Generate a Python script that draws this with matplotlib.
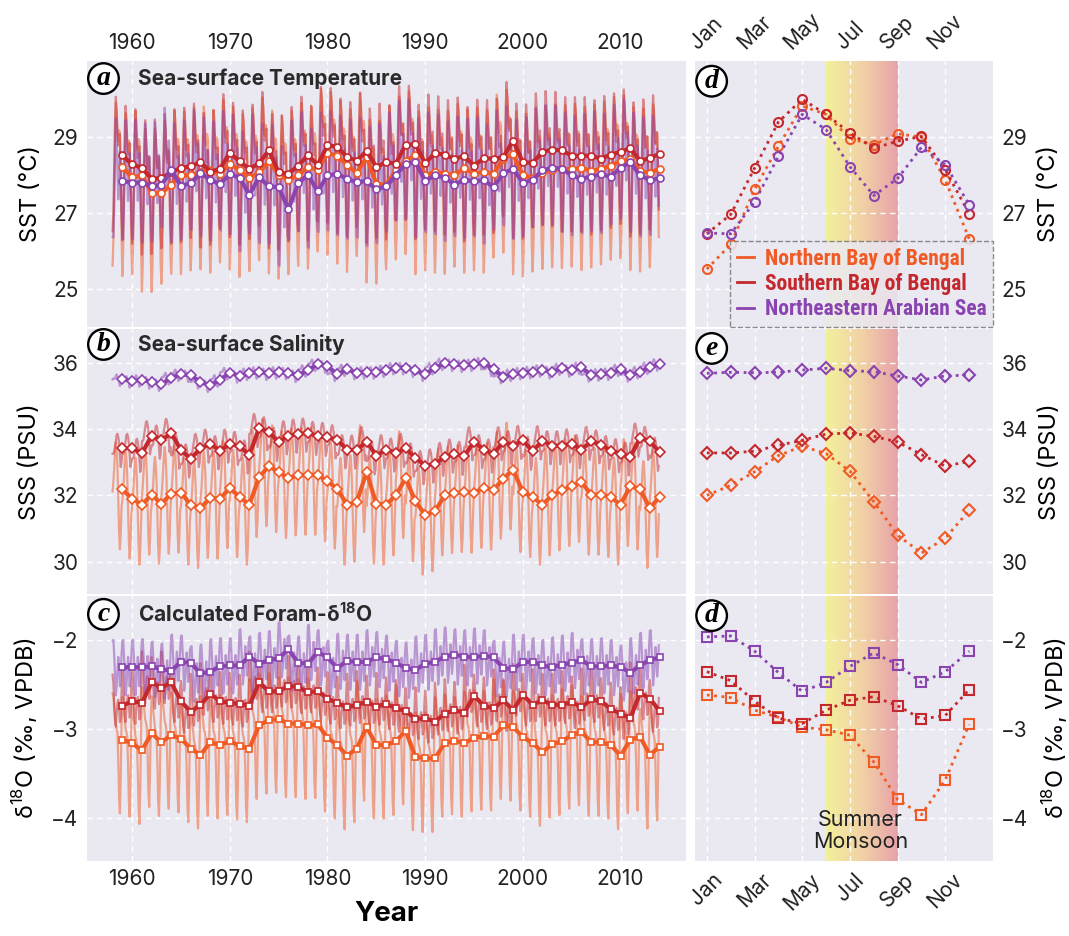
import numpy as np
import matplotlib.pyplot as plt
from matplotlib import font_manager
from matplotlib.colors import LinearSegmentedColormap
from matplotlib.lines import Line2D

plt.rcParams['font.family'] = ['Inter', 'DejaVu Sans']
plt.rcParams['mathtext.fontset'] = 'custom'
plt.rcParams['mathtext.rm'] = 'Inter'
plt.rcParams['mathtext.bf'] = 'Inter:bold'

# annual means, 1959-2014
years = np.arange(1959, 2015)

sst_n = [28.22, 27.94, 27.99, 27.53, 27.52, 27.74, 28.00, 27.99, 28.09, 28.12, 28.03, 28.30, 28.12, 27.92,
         28.07, 28.36, 28.01, 27.87, 27.99, 28.21, 28.14, 28.59, 28.50, 28.27, 28.05, 28.47, 27.77, 27.74,
         28.12, 28.38, 28.52, 27.99, 28.09, 28.03, 28.00, 28.19, 28.03, 28.09, 28.03, 28.43, 28.56,
         27.99, 27.93, 28.06, 28.13, 28.17, 28.15, 28.19, 28.10, 28.17, 28.25, 28.37, 28.41, 28.10, 28.06, 28.17]
sst_s = [28.52, 28.28, 28.19, 27.90, 27.92, 28.07, 28.19, 28.23, 28.34, 28.09, 28.16, 28.59, 28.36, 28.16,
         28.31, 28.65, 28.07, 28.03, 28.25, 28.52, 28.27, 28.78, 28.75, 28.47, 28.38, 28.63, 28.21, 28.34,
         28.30, 28.80, 28.81, 28.31, 28.58, 28.53, 28.43, 28.50, 28.25, 28.44, 28.43, 28.47, 28.91,
         28.34, 28.32, 28.61, 28.67, 28.65, 28.51, 28.51, 28.51, 28.43, 28.54, 28.61, 28.71, 28.37, 28.45, 28.56]
sst_a = [27.84, 27.80, 27.80, 27.71, 27.74, 28.12, 27.72, 27.78, 28.05, 27.87, 27.76, 28.03, 27.93, 27.48,
         27.94, 27.70, 27.68, 27.10, 27.78, 28.01, 27.57, 27.99, 28.03, 27.90, 27.81, 27.84, 27.62, 27.70,
         27.99, 28.30, 28.34, 27.85, 27.99, 27.93, 27.75, 27.88, 27.83, 27.87, 27.68, 28.05, 28.16,
         27.80, 27.87, 28.12, 28.19, 28.17, 27.99, 27.90, 27.96, 28.02, 27.96, 28.19, 28.34, 27.99, 27.87, 27.91]

sss_n = [32.18, 31.90, 31.72, 32.02, 31.75, 32.05, 32.08, 31.72, 31.62, 31.92, 31.90, 32.22, 31.95, 31.72,
         32.55, 32.88, 32.70, 32.52, 32.60, 32.62, 32.62, 32.42, 32.20, 31.72, 31.80, 32.70, 31.75, 31.72,
         32.00, 32.52, 31.82, 31.42, 31.52, 32.00, 32.07, 32.10, 32.08, 32.23, 32.17, 32.50, 32.78,
         32.10, 31.95, 31.72, 32.00, 32.15, 32.28, 32.40, 32.02, 32.02, 31.95, 31.72, 32.28, 32.18, 31.62, 31.95]
sss_s = [33.42, 33.42, 33.27, 33.80, 33.67, 33.87, 33.37, 33.10, 33.42, 33.55, 33.35, 33.55, 33.48, 33.22,
         34.02, 33.92, 33.60, 33.80, 33.85, 33.88, 33.78, 33.75, 33.68, 33.38, 33.37, 33.62, 33.20, 33.38,
         33.28, 33.42, 33.13, 32.90, 32.95, 33.15, 33.25, 33.18, 33.62, 33.38, 33.25, 33.62, 33.50,
         33.66, 33.33, 33.65, 33.50, 33.50, 33.56, 33.38, 33.63, 33.53, 33.35, 33.26, 33.16, 33.73, 33.63, 33.30]
sss_a = [35.50, 35.45, 35.48, 35.42, 35.35, 35.55, 35.65, 35.62, 35.42, 35.32, 35.48, 35.70, 35.60, 35.68,
         35.72, 35.68, 35.72, 35.70, 35.62, 35.78, 35.95, 35.90, 35.65, 35.80, 35.70, 35.72, 35.72, 35.77,
         35.85, 35.85, 35.77, 35.65, 35.85, 35.98, 35.95, 35.92, 35.95, 36.00, 35.80, 35.58, 35.65,
         35.70, 35.73, 35.78, 35.73, 35.83, 35.78, 35.86, 35.63, 35.66, 35.68, 35.80, 35.63, 35.73, 35.86, 35.96]

d18o_n = [-3.12, -3.16, -3.24, -3.05, -3.15, -3.07, -3.11, -3.22, -3.29, -3.15, -3.18, -3.14, -3.19, -3.22,
          -2.96, -2.90, -2.89, -2.94, -2.94, -2.96, -2.95, -3.10, -3.18, -3.30, -3.22, -2.98, -3.18, -3.18,
          -3.14, -3.02, -3.31, -3.33, -3.33, -3.16, -3.13, -3.16, -3.10, -3.08, -3.09, -2.96, -2.98,
          -3.09, -3.16, -3.26, -3.17, -3.14, -3.07, -3.03, -3.15, -3.15, -3.18, -3.30, -3.12, -3.09, -3.29, -3.20]
d18o_s = [-2.74, -2.69, -2.71, -2.48, -2.54, -2.48, -2.69, -2.81, -2.73, -2.61, -2.69, -2.71, -2.72, -2.74,
          -2.48, -2.58, -2.58, -2.52, -2.53, -2.59, -2.58, -2.66, -2.71, -2.76, -2.73, -2.70, -2.75, -2.72,
          -2.77, -2.80, -2.89, -2.88, -2.92, -2.83, -2.79, -2.82, -2.63, -2.74, -2.77, -2.68, -2.79,
          -2.62, -2.73, -2.68, -2.73, -2.73, -2.70, -2.76, -2.67, -2.69, -2.78, -2.83, -2.88, -2.60, -2.66, -2.80]
d18o_a = [-2.31, -2.31, -2.31, -2.30, -2.33, -2.35, -2.25, -2.26, -2.38, -2.36, -2.30, -2.29, -2.29, -2.19,
          -2.27, -2.23, -2.21, -2.11, -2.26, -2.27, -2.14, -2.20, -2.32, -2.24, -2.25, -2.25, -2.20, -2.22,
          -2.26, -2.32, -2.34, -2.27, -2.25, -2.19, -2.17, -2.19, -2.20, -2.18, -2.20, -2.32, -2.33,
          -2.25, -2.25, -2.29, -2.31, -2.28, -2.26, -2.23, -2.30, -2.30, -2.29, -2.31, -2.37, -2.29, -2.23, -2.20]

# monthly climatology, Jan-Dec
months = np.arange(1, 13)
month_ticks = [1, 3, 5, 7, 9, 11]
month_labels = ['Jan', 'Mar', 'May', 'Jul', 'Sep', 'Nov']

clim_sst_n = [25.52, 26.17, 27.62, 28.76, 29.82, 29.60, 28.96, 28.80, 29.09, 29.00, 27.87, 26.32]
clim_sst_s = [26.45, 26.96, 28.18, 29.40, 30.00, 29.60, 29.11, 28.71, 28.89, 29.02, 28.14, 26.98]
clim_sst_a = [26.47, 26.45, 27.29, 28.49, 29.60, 29.20, 28.22, 27.46, 27.91, 28.73, 28.27, 27.22]

clim_sss_n = [32.00, 32.30, 32.71, 33.20, 33.48, 33.26, 32.73, 31.81, 30.80, 30.26, 30.71, 31.55]
clim_sss_s = [33.28, 33.28, 33.33, 33.51, 33.66, 33.85, 33.88, 33.78, 33.61, 33.23, 32.88, 33.03]
clim_sss_a = [35.68, 35.71, 35.70, 35.71, 35.78, 35.83, 35.76, 35.73, 35.60, 35.48, 35.60, 35.63]

clim_d18o_n = [-2.62, -2.65, -2.79, -2.87, -2.98, -3.01, -3.07, -3.37, -3.79, -3.96, -3.57, -2.95]
clim_d18o_s = [-2.36, -2.46, -2.69, -2.88, -2.94, -2.79, -2.68, -2.64, -2.74, -2.89, -2.85, -2.56]
clim_d18o_a = [-1.97, -1.96, -2.13, -2.37, -2.58, -2.48, -2.30, -2.15, -2.28, -2.48, -2.36, -2.13]

region_names = ['Northern Bay of Bengal', 'Southern Bay of Bengal', 'Northeastern Arabian Sea']
colors = ['#F05A24', '#C4282C', '#8A44B0']

bg = '#EAE9F2'
grid_kw = dict(color='white', linestyle=(0, (4, 3)), linewidth=1.0)

# narrow bold face for the legend, whatever is installed
fonts = font_manager.fontManager.ttflist
names = {f.name for f in fonts}
if 'Roboto Condensed' in names:
    leg_prop = dict(family='Roboto Condensed', weight='bold', size=15.5)
elif any(f.name == 'Noto Sans' and str(f.stretch) in ('condensed', 'semi-condensed', 'extra-condensed')
         for f in fonts):
    leg_prop = dict(family='Noto Sans', stretch='condensed', weight='bold', size=15.5)
elif 'Open Sans Condensed' in names:
    leg_prop = dict(family='Open Sans Condensed', weight='bold', size=15.5)
else:
    leg_prop = dict(family='Roboto', weight='bold', size=12)


def monthly_series(annual, clim):
    # monthly values 1958-2013 rebuilt from annual means and the seasonal cycle
    clim = np.asarray(clim)
    anom = clim - clim.mean()
    t = []
    v = []
    for i, a in enumerate(annual):
        t.extend(1958 + i + (months - 1) / 12)
        v.extend(a + anom)
    return np.array(t), np.array(v)


def circ_label(ax, x, y, letter):
    ax.text(x, y, letter, transform=ax.transAxes, ha='center', va='center',
            fontsize=20, fontweight='bold', fontstyle='italic', family='Liberation Serif',
            bbox=dict(boxstyle='circle,pad=0.1', fc='white', ec='black', lw=1.7), zorder=10)


fig = plt.figure(figsize=(10.69, 9.36), dpi=100)
lx, lw_ = 0.0811, 0.5606
rx, rw = 0.6501, 0.2788
h = 0.2835
bottoms = [0.6510, 0.3655, 0.0800]

rows = [
    dict(ann=[sst_n, sst_s, sst_a], clim=[clim_sst_n, clim_sst_s, clim_sst_a], marker='o', ms=5,
         ylim=(24.0, 31.0), yticks=[25, 27, 29], ylabel='SST (°C)', title='Sea-surface Temperature',
         left_letter='a', right_letter='d', ty=0.935),
    dict(ann=[sss_n, sss_s, sss_a], clim=[clim_sss_n, clim_sss_s, clim_sss_a], marker='D', ms=5,
         ylim=(29.03, 37.03), yticks=[30, 32, 34, 36], ylabel='SSS (PSU)', title='Sea-surface Salinity',
         left_letter='b', right_letter='e', ty=0.94),
    dict(ann=[d18o_n, d18o_s, d18o_a], clim=[clim_d18o_n, clim_d18o_s, clim_d18o_a], marker='s', ms=5,
         ylim=(-4.48, -1.51), yticks=[-4, -3, -2], ylabel=r'δ$^{18}$O (‰, VPDB)',
         title=r'Calculated Foram-δ$^{\mathbf{18}}$O', left_letter='c', right_letter='d', ty=0.93),
]

band_cmap = LinearSegmentedColormap.from_list('monsoon', ['#F3F09C', '#F1D2A6', '#E8A2AA'])

for k, row in enumerate(rows):
    axl = fig.add_axes([lx, bottoms[k], lw_, h])
    axr = fig.add_axes([rx, bottoms[k], rw, h])
    for ax in (axl, axr):
        ax.set_facecolor(bg)
        for s in ax.spines.values():
            s.set_visible(False)
        ax.set_axisbelow(True)
        ax.grid(True, **grid_kw)
        ax.tick_params(length=0, labelsize=15, pad=6, colors='#222222')
        ax.set_ylim(*row['ylim'])
        ax.set_yticks(row['yticks'])

    # left: monthly thin lines then annual means
    for ann, clim, c in zip(row['ann'], row['clim'], colors):
        t, v = monthly_series(ann, clim)
        axl.plot(t, v, color=c, alpha=0.5, lw=1.6, zorder=2)
    for ann, c in zip(row['ann'], colors):
        axl.plot(years, ann, color=c, lw=3, marker=row['marker'], ms=row['ms'],
                 mfc='white', mec=c, mew=1.2, zorder=4)
    axl.set_xlim(1955.35, 2016.7)
    axl.set_xticks([1960, 1970, 1980, 1990, 2000, 2010])
    axl.set_ylabel(row['ylabel'], fontsize=17, labelpad=8)
    circ_label(axl, 0.028, row['ty'], row['left_letter'])
    axl.text(0.086, row['ty'], row['title'], transform=axl.transAxes, ha='left', va='center',
             fontsize=15, fontweight='bold', color='#2a2a2a', zorder=10)

    # right: climatology
    y0, y1 = row['ylim']
    grad = np.linspace(0, 1, 256).reshape(1, -1)
    axr.imshow(grad, extent=[6, 9, y0, y1], aspect='auto', cmap=band_cmap, zorder=0)
    for clim, c in zip(row['clim'], colors):
        axr.plot(months, clim, color=c, lw=2, linestyle=':', marker=row['marker'],
                 ms=row['ms'] + 1.5, mfc='none', mec=c, mew=1.5, zorder=4)
    axr.set_xlim(0.5, 13.0)
    axr.set_ylim(y0, y1)
    axr.set_xticks(month_ticks)
    axr.set_xticklabels(month_labels, rotation=45, ha='center')
    axr.yaxis.tick_right()
    axr.yaxis.set_label_position('right')
    axr.set_ylabel(row['ylabel'], fontsize=17, labelpad=8)
    circ_label(axr, 0.056, 0.925, row['right_letter'])

    if k == 0:
        axl.xaxis.tick_top()
        axr.xaxis.tick_top()
        handles = [Line2D([0], [0], color=c, lw=2) for c in colors]
        leg = axr.legend(handles, region_names, loc='lower right', bbox_to_anchor=(1.0, 0.0),
                         handlelength=0.8, handletextpad=0.5, borderaxespad=0.0, labelspacing=0.15,
                         borderpad=0.3, prop=leg_prop, fancybox=False, framealpha=0.85, facecolor=bg,
                         edgecolor='#777777')
        leg.get_frame().set_linestyle('--')
        leg.get_frame().set_linewidth(1.0)
        for txt, c in zip(leg.get_texts(), colors):
            txt.set_color(c)
        leg.set_zorder(12)
    elif k == 1:
        axl.set_xticklabels([])
        axr.set_xticklabels([])
    else:
        axl.set_xlabel('Year', fontsize=20, fontweight='bold', labelpad=8)
        axr.text(7.45, -4.14, 'Summer\nMonsoon', ha='center', va='center', fontsize=15.5,
                 color='#222222', linespacing=1.15, zorder=6)

fig.savefig('out.png', dpi=100, facecolor='white')
